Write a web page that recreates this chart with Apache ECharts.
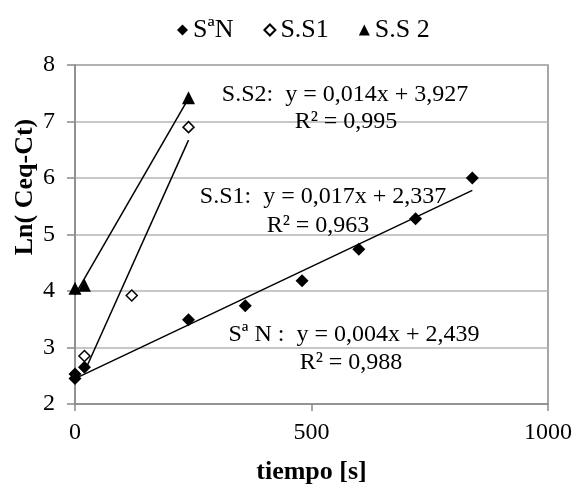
<!DOCTYPE html>
<html><head><meta charset="utf-8">
<script src="https://cdn.jsdelivr.net/npm/echarts@6/dist/echarts.min.js"></script>
<style>html,body{margin:0;padding:0;background:#fff}#c{width:578px;height:490px}</style>
</head><body><div id="c"></div>
<script>
const seriesNames = ['SªN', 'S.S1', 'S.S 2'];
const saN_x = [0, 0, 20, 240, 360, 480, 600, 720, 840];
const saN_y = [2.45, 2.53, 2.65, 3.49, 3.74, 4.18, 4.74, 5.28, 6.0];
const ss1_x = [20, 120, 240];
const ss1_y = [2.85, 3.92, 6.9];
const ss2_x = [0, 20, 240];
const ss2_y = [4.05, 4.1, 7.42];
// trendline end points
const trendSaN = [[0, 2.45], [840, 5.78]];
const trendSS1 = [[20, 2.57], [240, 6.67]];
const trendSS2 = [[0, 3.93], [240, 7.41]];
const xTicks = [0, 500, 1000];
const yTicks = [2, 3, 4, 5, 6, 7, 8];
const annotations = [
  ['S.S2:  y = 0,014x + 3,927', 345, 95],
  ['R² = 0,995', 346, 122],
  ['S.S1:  y = 0,017x + 2,337', 323, 197],
  ['R² = 0,963', 318, 226],
  ['Sª N :  y = 0,004x + 2,439', 354, 335],
  ['R² = 0,988', 351, 363]
];

const FONT = 'Liberation Serif';
const zip = (xs, ys) => xs.map((x, i) => [x, ys[i]]);
const chart = echarts.init(document.getElementById('c'), null, {renderer: 'canvas'});

function trend(d) {
  return {type: 'line', data: d, symbol: 'none', silent: true, z: 3,
    lineStyle: {color: '#000', width: 1.5}};
}

chart.setOption({
  animation: false,
  backgroundColor: '#fff',
  textStyle: {fontFamily: FONT, color: '#000'},
  legend: {
    top: 12, left: 172, itemGap: 30, itemWidth: 11, itemHeight: 11,
    textStyle: {fontFamily: FONT, fontSize: 26, color: '#000'},
    data: seriesNames.map(n => ({name: n}))
  },
  grid: {left: 75, right: 30, top: 65, bottom: 84, show: true, borderColor: '#8a8a8a', borderWidth: 1.5},
  xAxis: {
    type: 'value', min: xTicks[0], max: xTicks[xTicks.length - 1], interval: 500,
    name: 'tiempo [s]', nameLocation: 'middle', nameGap: 55,
    nameTextStyle: {fontFamily: FONT, fontSize: 26, fontWeight: 'bold', color: '#000'},
    axisLine: {lineStyle: {color: '#8a8a8a', width: 1.5}},
    axisTick: {show: true, length: 7, lineStyle: {color: '#8a8a8a', width: 1.5}},
    axisLabel: {fontFamily: FONT, fontSize: 24, color: '#000', margin: 17, formatter: v => String(v)},
    splitLine: {show: false}
  },
  yAxis: {
    type: 'value', min: yTicks[0], max: yTicks[yTicks.length - 1], interval: 1,
    axisLine: {show: true, lineStyle: {color: '#8a8a8a', width: 1.5}},
    axisTick: {show: true, length: 8, lineStyle: {color: '#8a8a8a', width: 1.5}},
    axisLabel: {fontFamily: FONT, fontSize: 24, color: '#000', margin: 20},
    splitLine: {show: true, lineStyle: {color: '#b5b5b5', width: 1.5}}
  },
  graphic: [
    {type: 'text', x: 25, y: 187, rotation: Math.PI / 2,
      style: {text: 'Ln( Ceq-Ct)', font: 'bold 26px "' + FONT + '"', fill: '#000', align: 'center', verticalAlign: 'middle'}}
  ].concat(annotations.map(a => ({
    type: 'text', x: a[1], y: a[2], z: 10,
    style: {text: a[0], font: '24px "' + FONT + '"', fill: '#000', align: 'center', verticalAlign: 'middle'}
  }))),
  series: [
    trend(trendSaN), trend(trendSS1), trend(trendSS2),
    {name: seriesNames[0], type: 'scatter', symbol: 'diamond', symbolSize: 13, z: 5,
      itemStyle: {color: '#000', opacity: 1}, data: zip(saN_x, saN_y)},
    {name: seriesNames[1], type: 'scatter', symbol: 'diamond', symbolSize: 11, z: 5,
      itemStyle: {color: '#fff', borderColor: '#000', borderWidth: 1.5, opacity: 1}, data: zip(ss1_x, ss1_y)},
    {name: seriesNames[2], type: 'scatter', symbol: 'triangle', symbolSize: 13, z: 5,
      itemStyle: {color: '#000', opacity: 1}, data: zip(ss2_x, ss2_y)}
  ]
});
</script></body></html>
